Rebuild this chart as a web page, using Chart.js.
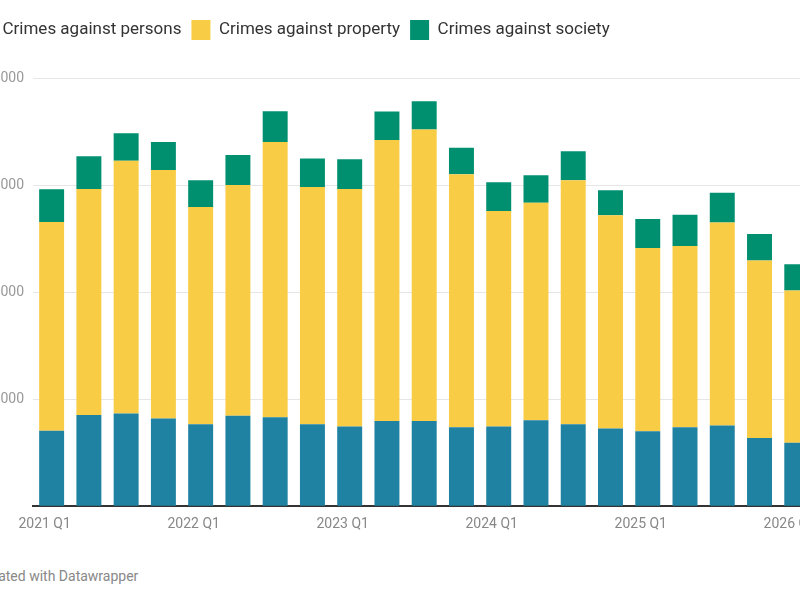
<!DOCTYPE html>
<html>
<head>
<meta charset="utf-8">
<script src="https://cdn.jsdelivr.net/npm/chart.js@4"></script>
<style>
    body { margin: 0; width: 800px; height: 600px; overflow: hidden; background: #fff; position: relative; font-family: Roboto, sans-serif; }
    #wrap { position: absolute; left: -35px; top: 0; width: 860px; height: 540px; }
    #credit { position: absolute; left: -23px; top: 568px; font-size: 14px; color: #888; white-space: nowrap; }
</style>
</head>
<body>
<div id="wrap"><canvas id="crimeChart"></canvas></div>
<div id="credit">Created with Datawrapper</div>
<script>
const quarters = [
    '2021 Q1', '2021 Q2', '2021 Q3', '2021 Q4',
    '2022 Q1', '2022 Q2', '2022 Q3', '2022 Q4',
    '2023 Q1', '2023 Q2', '2023 Q3', '2023 Q4',
    '2024 Q1', '2024 Q2', '2024 Q3', '2024 Q4',
    '2025 Q1', '2025 Q2', '2025 Q3', '2025 Q4',
    '2026 Q1'
];
const persons = [704, 853, 866, 820, 766, 846, 832, 766, 745, 797, 797, 738, 745, 804, 766, 726, 701, 738, 754, 638, 592];
const property = [1950, 2109, 2361, 2321, 2028, 2154, 2570, 2215, 2218, 2623, 2723, 2364, 2012, 2031, 2278, 1991, 1710, 1692, 1897, 1658, 1424];
const society = [306, 306, 256, 262, 252, 280, 287, 268, 278, 268, 262, 246, 268, 256, 271, 234, 271, 293, 277, 246, 243];
const yTicks = [0, 1000, 2000, 3000, 4000];

const COLORS = {
    persons: '#1f82a2',
    property: '#f9cc45',
    society: '#00906f'
};

// push the plot down below the legend
const legendGap = {
    id: 'legendGap',
    beforeInit(chart) {
        const fit = chart.legend.fit;
        chart.legend.fit = function() {
            fit.bind(chart.legend)();
            this.height += 28;
        };
    }
};

const ctx = document.getElementById('crimeChart').getContext('2d');
new Chart(ctx, {
    type: 'bar',
    data: {
        labels: quarters,
        datasets: [
            { label: 'Crimes against persons', data: persons, backgroundColor: COLORS.persons },
            { label: 'Crimes against property', data: property, backgroundColor: COLORS.property },
            { label: 'Crimes against society', data: society, backgroundColor: COLORS.society }
        ]
    },
    options: {
        responsive: true,
        maintainAspectRatio: false,
        animation: false,
        layout: { padding: { top: 10, left: 0, right: 0, bottom: 5 } },
        datasets: {
            bar: { categoryPercentage: 1, barPercentage: 0.67, borderWidth: 0 }
        },
        plugins: {
            tooltip: { enabled: false },
            legend: {
                position: 'top',
                align: 'start',
                labels: {
                    boxWidth: 19,
                    boxHeight: 20,
                    padding: 10,
                    color: '#333',
                    font: { family: 'Roboto', size: 17 }
                }
            }
        },
        scales: {
            x: {
                stacked: true,
                grid: { display: false },
                border: { display: true, color: '#333', width: 2 },
                ticks: {
                    autoSkip: false,
                    maxRotation: 0,
                    padding: 2,
                    labelOffset: -7,
                    color: '#888',
                    font: { family: 'Roboto', size: 14 },
                    callback: function(value, index) {
                        return index % 4 === 0 ? quarters[index] : '';
                    }
                }
            },
            y: {
                stacked: true,
                min: yTicks[0],
                max: yTicks[yTicks.length - 1],
                afterBuildTicks: function(scale) {
                    scale.ticks = yTicks.map(v => ({ value: v }));
                },
                afterFit: function(scale) {
                    scale.width = 68;
                },
                grid: { color: '#e6e6e6', drawTicks: false },
                border: { display: false },
                ticks: {
                    padding: 9,
                    color: '#999',
                    font: { family: 'Roboto', size: 14 },
                    callback: function(value) {
                        return value === 0 ? '' : value.toLocaleString('en-US');
                    }
                }
            }
        }
    },
    plugins: [legendGap]
});
</script>
</body>
</html>
